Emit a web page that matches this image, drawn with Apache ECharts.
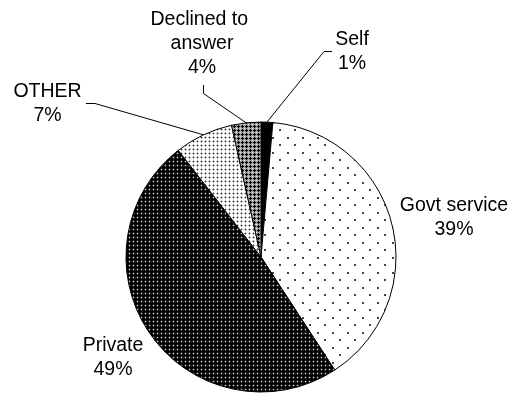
<!DOCTYPE html>
<html>
<head>
<meta charset="utf-8">
<script src="https://cdn.jsdelivr.net/npm/echarts@6/dist/echarts.min.js"></script>
<style>
html,body{margin:0;padding:0;background:#fff;}
#chart{width:510px;height:394px;}
</style>
</head>
<body>
<div id="chart"></div>
<script>
// Data (clockwise from 12 o'clock)
const categories = ['Self', 'Govt service', 'Private', 'OTHER', 'Declined to answer'];
const values = [1.4, 39.4, 48.7, 7.0, 3.5];

function makeTile(w, h, bg, pixels) {
  const c = document.createElement('canvas');
  c.width = w; c.height = h;
  const ctx = c.getContext('2d');
  ctx.fillStyle = bg; ctx.fillRect(0, 0, w, h);
  pixels.forEach(p => { ctx.fillStyle = p[2]; ctx.fillRect(p[0], p[1], p[3] || 1, p[4] || 1); });
  return { image: c, repeat: 'repeat' };
}
const patSelf = '#000';
const patGovt = makeTile(15, 15, '#fff', [[2, 2, '#444', 2, 2], [9, 9, '#444', 2, 2]]);
const patPrivate = makeTile(4, 4, '#000', [[1, 1, '#d0d0d0'], [0, 1, '#3a3a3a'], [2, 1, '#3a3a3a'], [1, 0, '#3a3a3a'], [1, 2, '#3a3a3a']]);
const patOther = makeTile(4, 4, '#fff', [[1, 1, '#333'], [0, 1, '#aaa'], [2, 1, '#aaa'], [1, 0, '#aaa'], [1, 2, '#aaa']]);
const patDecl = makeTile(4, 4, '#a0a0a0', [[2, 1, '#000'], [1, 2, '#000'], [2, 2, '#000'], [3, 2, '#000'], [2, 3, '#000'], [0, 0, '#eee']]);
const patterns = [patSelf, patGovt, patPrivate, patOther, patDecl];

// label placement (block centers) and leader-line bends
const labelPos = [
  { x: 352, y: 51.5, line: [[324, 51.5], [332, 51.5]] },
  { x: 454, y: 217.5, line: null },
  { x: 113, y: 357.5, line: null },
  { x: 47.5, y: 104, line: [[95, 103.5], [86, 103.5]] },
  { x: 202, y: 44, line: [[203.5, 93.5], [203.5, 85]] }
];

const chart = echarts.init(document.getElementById('chart'), null, { renderer: 'canvas' });
chart.setOption({
  animation: false,
  backgroundColor: '#fff',
  series: [{
    type: 'pie',
    center: [261, 257],
    radius: 135,
    startAngle: 90,
    clockwise: true,
    percentPrecision: 0,
    avoidLabelOverlap: false,
    itemStyle: { borderColor: '#000', borderWidth: 1 },
    emphasis: { disabled: true },
    label: {
      show: true,
      position: 'outside',
      formatter: '{b}\n{d}%',
      color: '#000',
      fontFamily: '"Liberation Sans", Arial, sans-serif',
      fontSize: 19.5,
      lineHeight: 24,
      align: 'center'
    },
    labelLine: { show: true, length: 10, length2: 10, lineStyle: { color: '#000', width: 1 } },
    labelLayout: function (params) {
      const p = labelPos[params.dataIndex];
      const out = { x: p.x, y: p.y, align: 'center', verticalAlign: 'middle' };
      if (p.line && params.labelLinePoints) {
        out.labelLinePoints = [params.labelLinePoints[0], p.line[0], p.line[1]];
      }
      return out;
    },
    data: categories.map((name, i) => {
      const d = { name: name, value: values[i], itemStyle: { color: patterns[i] } };
      if (!labelPos[i].line) d.labelLine = { show: false };
      if (name === 'Declined to answer') d.label = { width: 105, overflow: 'break' };
      return d;
    })
  }]
});
</script>
</body>
</html>
